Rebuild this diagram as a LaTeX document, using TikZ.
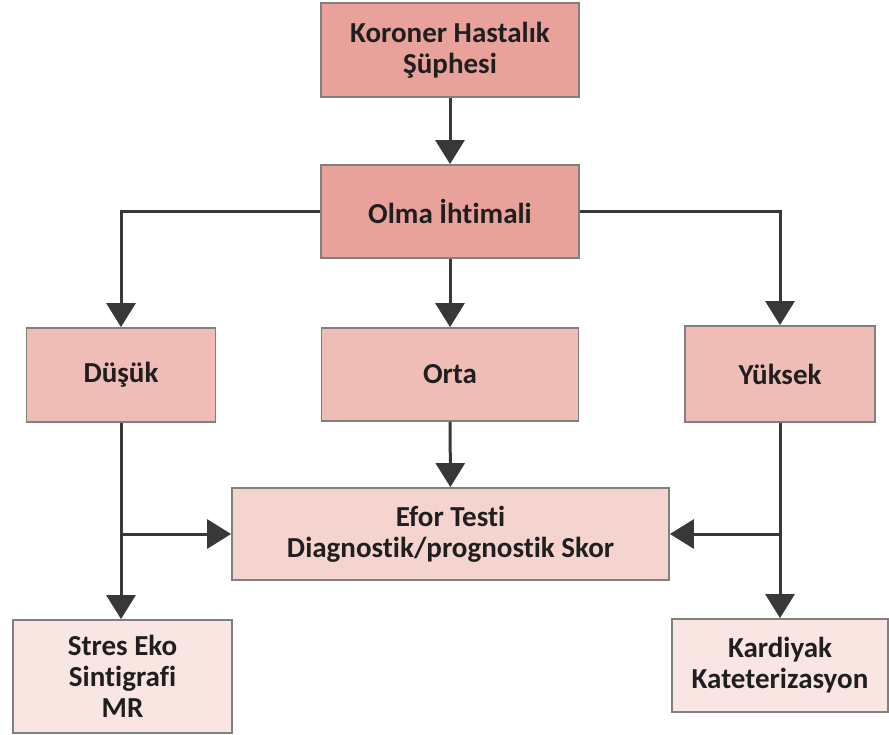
\documentclass[tikz,border=0pt]{standalone}
\usepackage{fontspec}
\setmainfont{Carlito}[Ligatures=NoCommon]
\usetikzlibrary{arrows.meta}
\definecolor{koyu}{RGB}{233,161,155}
\definecolor{orta}{RGB}{240,188,182}
\definecolor{acik}{RGB}{245,211,206}
\definecolor{soluk}{RGB}{249,230,227}

\begin{document}
\begin{tikzpicture}[x=1pt, y=-1pt,
    kutu/.style={draw=black!50, line width=1.8pt, align=center, inner sep=0pt,
      font=\fontsize{29}{31}\selectfont\bfseries, text=black!88},
    ok/.style={draw=black!78, line width=3pt,
      -{Triangle[width=29pt, length=24pt]}}]
  \useasboundingbox (0,0) rectangle (889,735);
  \node[kutu, fill=koyu, minimum width=258, minimum height=94] (suphe) at (450,50)
    {Koroner Hastalık\\Şüphesi};
  \node[kutu, fill=koyu, minimum width=258, minimum height=93] (olma) at (450,211.5)
    {Olma İhtimali};
  \node[kutu, fill=orta, minimum width=189, minimum height=94] (dusuk) at (121,375) {Düşük};
  \node[kutu, fill=orta, minimum width=257, minimum height=93] (ortaK) at (450,374.5) {Orta};
  \node[kutu, fill=orta, minimum width=190, minimum height=96] (yuksek) at (780,374) {Yüksek};
  \node[kutu, fill=acik, minimum width=437, minimum height=92] (efor) at (450.5,534)
    {Efor Testi\\Diagnostik/prognostik Skor};
  \node[kutu, fill=soluk, minimum width=219, minimum height=113] (stres) at (122.5,676.5)
    {Stres Eko\\Sintigrafi\\MR};
  \node[kutu, fill=soluk, minimum width=216, minimum height=93] (kateter) at (780,665.5)
    {Kardiyak\\Kateterizasyon};
  \coordinate (sol) at (dusuk.south |- efor.west);
  \coordinate (sag) at (yuksek.south |- efor.east);
  \draw[ok] (suphe) -- (olma);
  \draw[ok] (olma.west) -| (dusuk.north);
  \draw[ok] (olma) -- (ortaK);
  \draw[ok] (olma.east) -| (yuksek.north);
  \draw[ok] (ortaK) -- (efor);
  \draw[ok] (dusuk.south) -- (dusuk.south |- stres.north);
  \draw[ok] (sol) -- (efor.west);
  \draw[ok] (yuksek.south) -- (yuksek.south |- kateter.north);
  \draw[ok] (sag) -- (efor.east);
\end{tikzpicture}
\end{document}
